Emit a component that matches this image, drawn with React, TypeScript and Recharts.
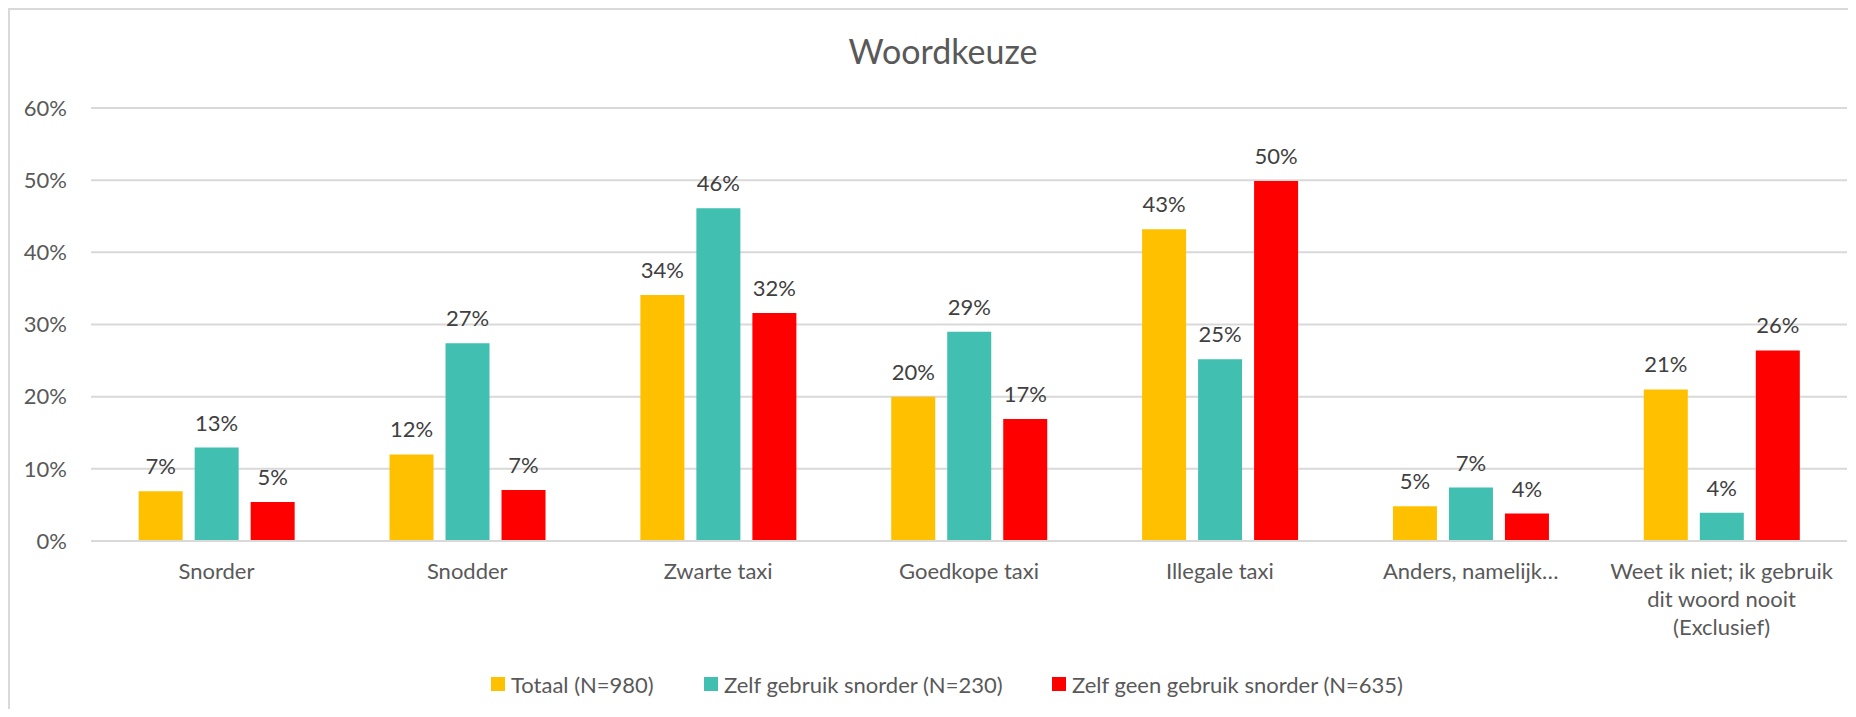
import { Bar, BarChart, CartesianGrid, LabelList, Legend, XAxis, YAxis } from "recharts";

const categories = [
  "Snorder",
  "Snodder",
  "Zwarte taxi",
  "Goedkope taxi",
  "Illegale taxi",
  "Anders, namelijk…",
  "Weet ik niet; ik gebruik\ndit woord nooit\n(Exclusief)",
];

const totaal = [6.9, 12.0, 34.1, 20.0, 43.2, 4.8, 21.0];
const zelfGebruik = [12.95, 27.4, 46.1, 29.0, 25.2, 7.4, 3.9];
const geenGebruik = [5.4, 7.05, 31.6, 16.9, 49.9, 3.8, 26.4];

const yTicks = [0, 10, 20, 30, 40, 50, 60];

const series = [
  { key: "totaal", name: "Totaal (N=980)", color: "#FFC000" },
  { key: "zelf", name: "Zelf gebruik snorder (N=230)", color: "#41BFB1" },
  { key: "geen", name: "Zelf geen gebruik snorder (N=635)", color: "#FF0000" },
];

const data = categories.map((cat, i) => ({
  cat,
  totaal: totaal[i],
  zelf: zelfGebruik[i],
  geen: geenGebruik[i],
}));

const FONT = "Lato, 'Open Sans', sans-serif";
const TEXT = "#595959";

/** multi-line category label under the axis */
function CategoryTick({ x, y, payload }: any) {
  const lines = String(payload.value).split("\n");
  return (
    <text x={x} y={y} textAnchor="middle" fill={TEXT} fontSize={22} fontFamily={FONT}>
      {lines.map((line, i) => (
        <tspan key={i} x={x} dy={i === 0 ? 38 : 28}>
          {line}
        </tspan>
      ))}
    </text>
  );
}

// item widths keep the squares where Excel put them
const legendWidths = [213, 348, 420];

function LegendRow() {
  return (
    <div
      style={{
        height: 50,
        display: "flex",
        alignItems: "center",
        paddingLeft: 481,
        boxSizing: "border-box",
        fontFamily: FONT,
        fontSize: 22,
        color: TEXT,
      }}
    >
      {series.map((s, i) => (
        <div key={s.key} style={{ width: legendWidths[i], display: "flex", alignItems: "center" }}>
          <span style={{ width: 14, height: 14, background: s.color, marginRight: 6, flex: "none" }} />
          <span style={{ whiteSpace: "nowrap" }}>{s.name}</span>
        </div>
      ))}
    </div>
  );
}

export default function App() {
  return (
    <div
      style={{
        position: "relative",
        width: 1848,
        height: 701,
        boxSizing: "border-box",
        borderTop: "2px solid #D9D9D9",
        borderLeft: "2px solid #D9D9D9",
        overflow: "hidden",
        background: "#fff",
      }}
    >
      <div
        style={{
          position: "absolute",
          left: 0,
          top: 24,
          width: 1866,
          textAlign: "center",
          fontFamily: FONT,
          fontSize: 34,
          lineHeight: "34px",
          color: TEXT,
        }}
      >
        Woordkeuze
      </div>
      <BarChart
        width={1846}
        height={699}
        data={data}
        margin={{ top: 98, right: 9, left: 0, bottom: 0 }}
        barCategoryGap="19%"
        barGap={12}
        style={{ fontFamily: FONT }}
      >
        <CartesianGrid vertical={false} stroke="#D9D9D9" strokeWidth={2} />
        <XAxis
          dataKey="cat"
          interval={0}
          height={118}
          tickLine={false}
          tickSize={0}
          tickMargin={0}
          axisLine={{ stroke: "#D9D9D9", strokeWidth: 2 }}
          tick={<CategoryTick />}
        />
        <YAxis
          width={81}
          domain={[0, 60]}
          ticks={yTicks}
          axisLine={false}
          tickLine={false}
          tickSize={0}
          tickMargin={24}
          tickFormatter={(v) => `${v}%`}
          tick={{ fill: TEXT, fontSize: 22, fontFamily: FONT }}
        />
        <Legend verticalAlign="bottom" content={<LegendRow />} />
        {series.map((s) => (
          <Bar key={s.key} dataKey={s.key} name={s.name} fill={s.color} isAnimationActive={false}>
            <LabelList
              dataKey={s.key}
              position="top"
              offset={17}
              formatter={(v: any) => `${Math.round(Number(v))}%`}
              style={{ fill: "#404040", fontSize: 22, fontFamily: FONT }}
            />
          </Bar>
        ))}
      </BarChart>
    </div>
  );
}
